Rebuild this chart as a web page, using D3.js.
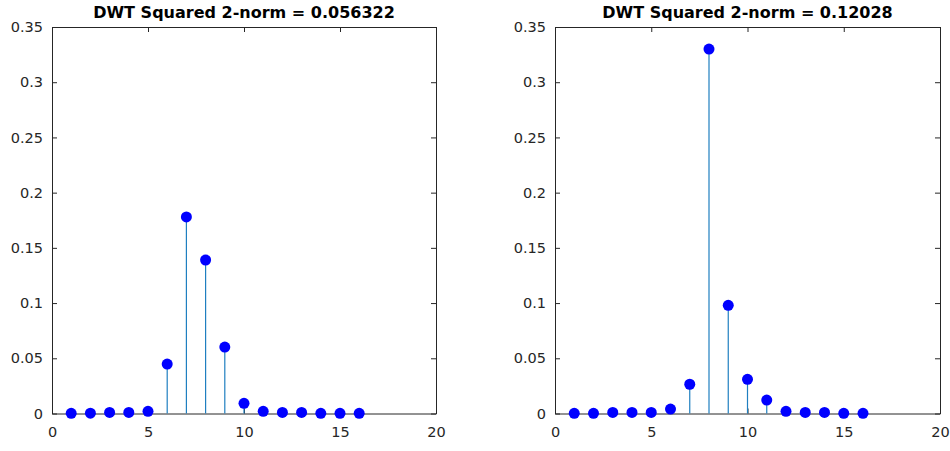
<!DOCTYPE html>
<html>
<head>
<meta charset="utf-8">
<script src="https://cdn.jsdelivr.net/npm/d3@7"></script>
<style>
  body { margin: 0; background: #fff; }
  svg { display: block; font-family: "DejaVu Sans", sans-serif; }
</style>
</head>
<body>
<div id="chart"></div>
<script>
// sample index 1..16
const indices = d3.range(1, 17);
const leftValues = [0.0002, 0.0003, 0.001, 0.001, 0.002, 0.0448, 0.178, 0.139, 0.0602, 0.0092, 0.002, 0.001, 0.001, 0.0002, 0.0002, 0.0002];
const rightValues = [0.0002, 0.0002, 0.001, 0.001, 0.001, 0.004, 0.0265, 0.330, 0.098, 0.031, 0.0122, 0.002, 0.001, 0.001, 0.0002, 0.0002];
const titles = ["DWT Squared 2-norm = 0.056322", "DWT Squared 2-norm = 0.12028"];
const xTicks = [0, 5, 10, 15, 20];
const yTicks = [0, 0.05, 0.1, 0.15, 0.2, 0.25, 0.3, 0.35];

const width = 950, height = 451;
const axisColor = "#262626";
const fontFamily = "'DejaVu Sans', sans-serif";

const svg = d3.select("#chart").append("svg")
    .attr("width", width)
    .attr("height", height);

const panels = [
    { left: 52, right: 436, values: leftValues, title: titles[0] },
    { left: 555, right: 940, values: rightValues, title: titles[1] }
];
const plotTop = 27, plotBottom = 413.5;

panels.forEach(p => {
    const x = d3.scaleLinear().domain([0, 20]).range([p.left, p.right]);
    const y = d3.scaleLinear().domain([0, 0.35]).range([plotBottom, plotTop]);
    const g = svg.append("g");

    // axes box with inward ticks
    const styleAxis = sel => {
        sel.select(".domain").attr("stroke", axisColor).attr("stroke-width", 1);
        sel.selectAll(".tick line").attr("stroke", axisColor);
        sel.selectAll(".tick text").attr("fill", axisColor).attr("font-size", 14.5)
            .attr("font-family", fontFamily);
    };

    g.append("g").attr("transform", `translate(0,${plotBottom})`)
        .call(d3.axisBottom(x).tickValues(xTicks).tickSizeInner(-5).tickSizeOuter(0).tickPadding(13).tickFormat(d3.format("d")))
        .call(styleAxis);
    g.append("g").attr("transform", `translate(0,${plotTop})`)
        .call(d3.axisTop(x).tickValues(xTicks).tickSizeInner(-5).tickSizeOuter(0).tickFormat(""))
        .call(styleAxis);
    g.append("g").attr("transform", `translate(${p.left},0)`)
        .call(d3.axisLeft(y).tickValues(yTicks).tickSizeInner(-5).tickSizeOuter(0).tickPadding(9).tickFormat(d => d === 0 ? "0" : String(+d.toFixed(2))))
        .call(styleAxis);
    g.append("g").attr("transform", `translate(${p.right},0)`)
        .call(d3.axisRight(y).tickValues(yTicks).tickSizeInner(-5).tickSizeOuter(0).tickFormat(""))
        .call(styleAxis);

    // stems
    g.append("g").selectAll("line")
        .data(indices)
        .join("line")
        .attr("x1", d => x(d)).attr("x2", d => x(d))
        .attr("y1", y(0))
        .attr("y2", (d, i) => y(p.values[i]))
        .attr("stroke", "#1f7fc0")
        .attr("stroke-width", 1.2);

    // markers
    g.append("g").selectAll("circle")
        .data(indices)
        .join("circle")
        .attr("cx", d => x(d))
        .attr("cy", (d, i) => y(p.values[i]))
        .attr("r", 5.5)
        .attr("fill", "#0000FF");

    // title
    g.append("text")
        .attr("x", (p.left + p.right) / 2)
        .attr("y", 18)
        .attr("text-anchor", "middle")
        .attr("font-family", fontFamily)
        .attr("font-size", 16)
        .attr("font-weight", "bold")
        .attr("fill", "#000")
        .text(p.title);
});
</script>
</body>
</html>
